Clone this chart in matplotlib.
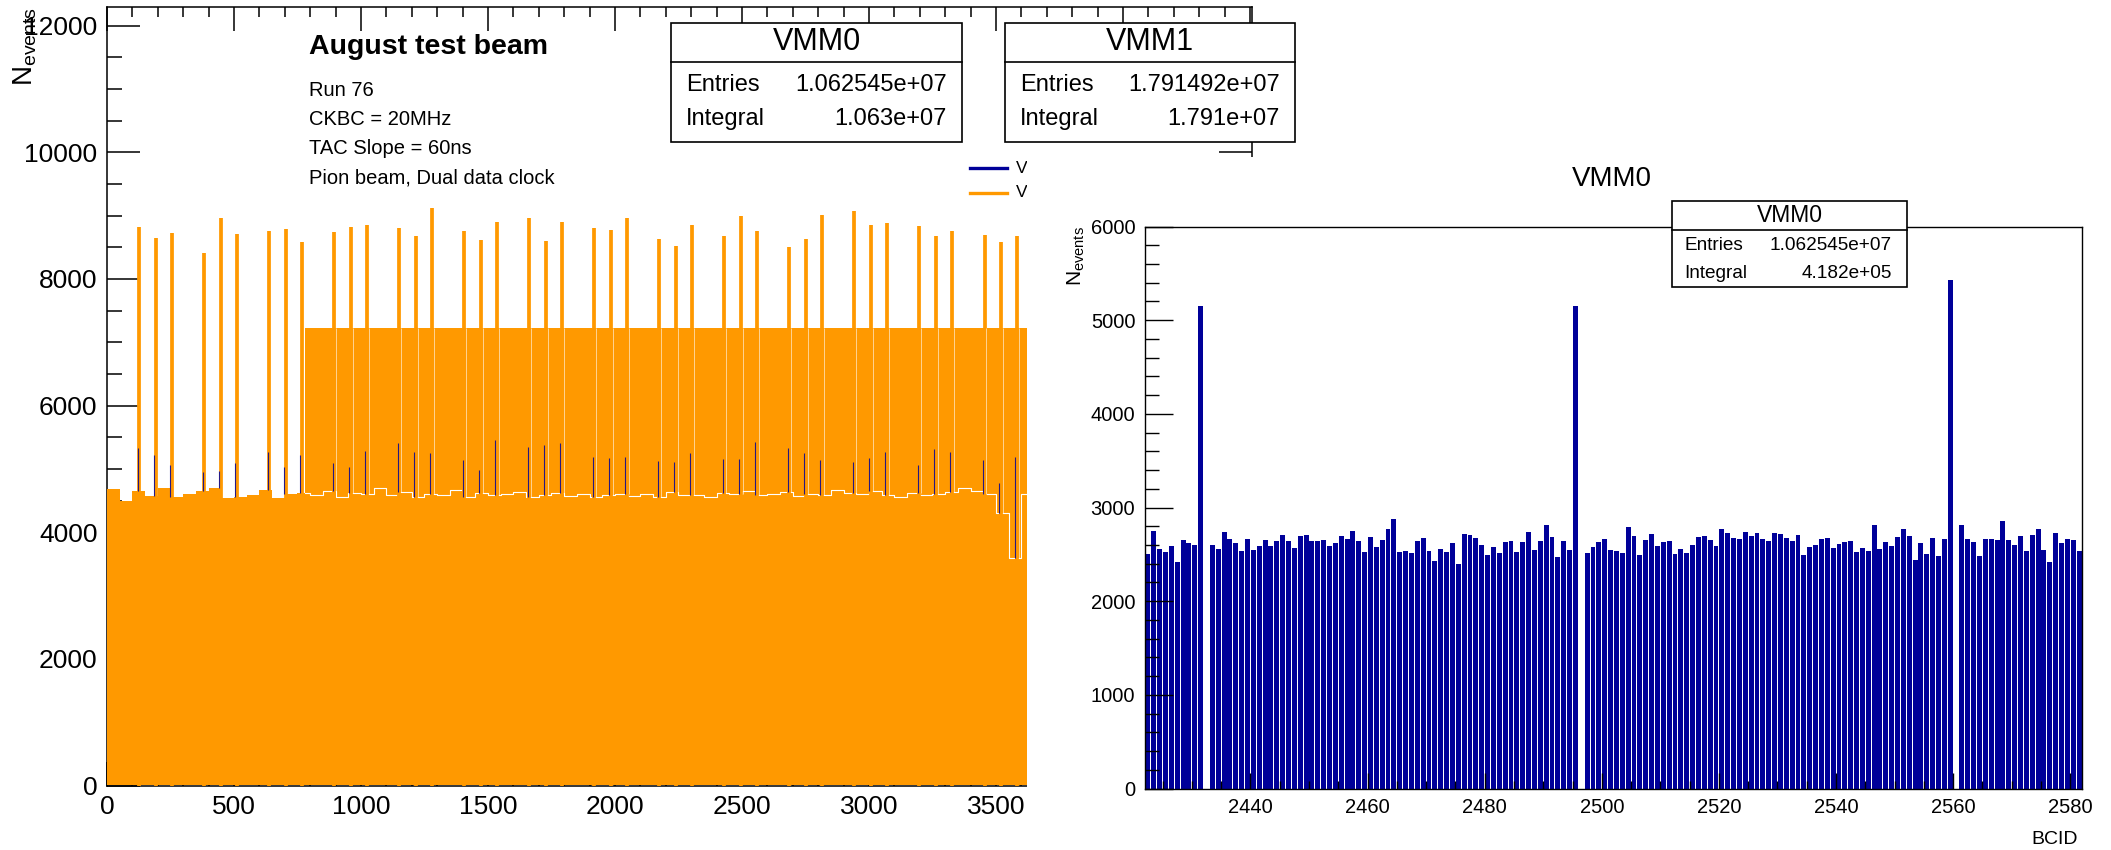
import numpy as np
import matplotlib
matplotlib.use("Agg")
import matplotlib.pyplot as plt
import matplotlib.transforms as mtransforms
from matplotlib.patches import Rectangle
from matplotlib.lines import Line2D
from matplotlib.ticker import MultipleLocator, FuncFormatter

plt.rcParams['font.family'] = ['Liberation Sans', 'DejaVu Sans']
plt.rcParams['mathtext.fontset'] = 'custom'
plt.rcParams['mathtext.rm'] = 'Liberation Sans'
plt.rcParams['mathtext.it'] = 'Liberation Sans:italic'
plt.rcParams['mathtext.bf'] = 'Liberation Sans:bold'

# ---------------------------------------------------------------- data
# BCIDs where both VMMs show a spike (left, full-range panel)
spike_bcid = [127, 191, 255, 383, 447, 511, 639, 703, 767, 895, 959, 1023,
              1151, 1215, 1279, 1407, 1471, 1535, 1663, 1727, 1791, 1919,
              1983, 2047, 2175, 2239, 2303, 2431, 2495, 2559, 2687, 2751,
              2815, 2943, 3007, 3071, 3199, 3263, 3327, 3455, 3519, 3583]
vmm1_spike_counts = [8828, 8649, 8728, 8417, 8965, 8707, 8760, 8786, 8581, 8744,
                     8823, 8850, 8802, 8676, 9118, 8755, 8613, 8907, 8960, 8602,
                     8902, 8807, 8776, 8960, 8638, 8523, 8855, 8676, 8997, 8760,
                     8507, 8628, 9013, 9076, 8850, 8886, 8839, 8681, 8755, 8697,
                     8581, 8686]
vmm0_spike_counts = [5330, 5220, 5060, 4950, 4960, 5095, 5273, 5036, 5221, 5095,
                     5036, 5290, 5408, 5273, 5250, 5142, 4980, 5458, 5352, 5380,
                     5406, 5184, 5168, 5195, 5126, 5116, 5258, 5149, 5150, 5424,
                     5327, 5253, 5142, 5116, 5168, 5274, 5063, 5311, 5274, 5142,
                     4774, 5195]
# VMM1 baseline level, one value per 50-BCID band starting at BCID 0
vmm1_band_width = 50
vmm1_band_top = [4680, 4500, 4650, 4570, 4700, 4560, 4600, 4650, 4700, 4540,
                 4560, 4590, 4670, 4540, 4600, 4620, 4580, 4650, 4560, 4620,
                 4600, 4700, 4590, 4640, 4560, 4610, 4580, 4660, 4550, 4620,
                 4580, 4600, 4640, 4560, 4590, 4620, 4570, 4600, 4560, 4580,
                 4610, 4570, 4600, 4550, 4640, 4590, 4580, 4560, 4620, 4600,
                 4650, 4580, 4610, 4640, 4570, 4600, 4590, 4660, 4620, 4600,
                 4650, 4580, 4560, 4620, 4590, 4610, 4640, 4700, 4650, 4600,
                 4300, 3600, 4600]
# flat VMM1 fill region
vmm1_flat_start = 779
vmm1_flat_stop = 3640
vmm1_flat_level = 7223

# zoomed right panel: VMM0 counts per BCID
zoom_bcid = list(range(2422, 2582))
zoom_vmm0_counts = [
    2503, 2750, 2560, 2521, 2593, 2421, 2653, 2625, 2600, 5149,
    0, 2603, 2553, 2739, 2661, 2618, 2539, 2664, 2550, 2585,
    2653, 2589, 2643, 2707, 2643, 2571, 2696, 2711, 2639, 2643,
    2653, 2589, 2618, 2696, 2668, 2750, 2639, 2525, 2686, 2578,
    2653, 2771, 2875, 2525, 2539, 2510, 2646, 2678, 2532, 2432,
    2560, 2525, 2625, 2400, 2721, 2707, 2671, 2596, 2489, 2582,
    2514, 2632, 2639, 2525, 2636, 2739, 2543, 2646, 2811, 2686,
    2475, 2639, 2543, 5150, 0, 2518, 2582, 2636, 2664, 2543,
    2535, 2510, 2796, 2696, 2489, 2657, 2718, 2585, 2632, 2643,
    2507, 2553, 2518, 2596, 2682, 2700, 2653, 2585, 2771, 2728,
    2675, 2668, 2743, 2700, 2732, 2664, 2643, 2725, 2721, 2678,
    2646, 2707, 2496, 2575, 2603, 2668, 2675, 2564, 2614, 2632,
    2643, 2525, 2564, 2539, 2818, 2553, 2636, 2589, 2686, 2771,
    2696, 2442, 2625, 2503, 2678, 2485, 2668, 5424, 0, 2814,
    2664, 2632, 2485, 2668, 2664, 2657, 2857, 2650, 2600, 2696,
    2535, 2707, 2771, 2546, 2421, 2728, 2625, 2668, 2653, 2539]

stat_names = ["VMM0", "VMM1"]
stat_entries = ["1.062545e+07", "1.791492e+07"]
stat_integrals = ["1.063e+07", "1.791e+07"]
zoom_integral = "4.182e+05"
info_lines = ["Run 76", "CKBC = 20MHz", "TAC Slope = 60ns", "Pion beam, Dual data clock"]

# ---------------------------------------------------------------- figure
W, H = 2111, 850
fig = plt.figure(figsize=(W / 100, H / 100), dpi=100)
fig.patch.set_facecolor('white')


def fx(px):
    return px / W


def fy(py):
    return 1 - py / H


ORANGE = '#ff9900'
BLUE = '#000099'

# ---------------- left panel
ax = fig.add_axes([fx(107), fy(785.5), fx(1251.7) - fx(107), fy(7.3) - fy(785.5)])
ax.set_zorder(0)
ax.set_axisbelow(True)

band = np.array(vmm1_band_top, dtype=float)
edges = np.arange(len(band) + 1) * vmm1_band_width
ax.fill_between(edges, 0, np.r_[band, band[-1]], step='post', color=ORANGE, lw=0, zorder=1)
ax.fill_between([vmm1_flat_start, vmm1_flat_stop], 0, vmm1_flat_level,
                color=ORANGE, lw=0, zorder=1)

# white outline of the baseline inside the flat region
xs = np.r_[vmm1_flat_start, edges[(edges > vmm1_flat_start) & (edges < vmm1_flat_stop)], vmm1_flat_stop]
idx = np.minimum(xs // vmm1_band_width, len(band) - 1).astype(int)
ax.step(xs, band[idx], where='post', color='white', lw=0.8, zorder=1.1)

sb = np.array(spike_bcid)
band_at_spike = band[np.minimum(sb // vmm1_band_width, len(band) - 1)]
ax.vlines(sb, 0, vmm1_spike_counts, color=ORANGE, lw=2.7, zorder=1.2)

left_off = ax.transData + mtransforms.ScaledTranslation(-1.2 / 72, 0, fig.dpi_scale_trans)
right_off = ax.transData + mtransforms.ScaledTranslation(1.4 / 72, 0, fig.dpi_scale_trans)
ax.vlines(sb, band_at_spike, vmm0_spike_counts, color=BLUE, lw=0.8, alpha=0.85,
          zorder=1.4, transform=left_off)
inflat = sb > vmm1_flat_start
ax.vlines(sb[inflat], band_at_spike[inflat], vmm1_flat_level, color='white', lw=0.5,
          alpha=0.8, zorder=1.3, transform=right_off)

ax.set_xlim(0, 4507)
ax.set_ylim(0, 12290)
ax.xaxis.set_major_locator(MultipleLocator(500))
ax.xaxis.set_minor_locator(MultipleLocator(100))
# labels beyond 3500 lie under the zoom pad
ax.xaxis.set_major_formatter(FuncFormatter(lambda v, p: f"{v:.0f}" if v <= 3500 else ""))
ax.yaxis.set_major_locator(MultipleLocator(2000))
ax.yaxis.set_minor_locator(MultipleLocator(500))
ax.tick_params(axis='x', which='major', direction='in', length=17.3, width=1.1,
               top=True, bottom=True, labelsize=19, pad=6.5)
ax.tick_params(axis='x', which='minor', direction='in', length=7.2, width=1.1,
               top=True, bottom=True)
ax.tick_params(axis='y', which='major', direction='in', length=23.8, width=1.1,
               left=True, right=True, labelsize=19, pad=6.8)
ax.tick_params(axis='y', which='minor', direction='in', length=10.8, width=1.1,
               left=True, right=True)
for s in ax.spines.values():
    s.set_linewidth(1.1)
ax.spines['left'].set_zorder(0.6)
ax.spines['bottom'].set_zorder(0.6)

# text block
ax.text(fx(309), fy(46.7), "August test beam", transform=fig.transFigure,
        fontsize=20.5, fontweight='bold', va='center', ha='left')
for line, yy in zip(info_lines, [90.3, 119.5, 149, 177.5]):
    ax.text(fx(309), fy(yy), line, transform=fig.transFigure, fontsize=14.5,
            va='center', ha='left')

# legend (partly hidden by the zoom pad)
for name, col, yy in zip(stat_names, [BLUE, ORANGE], [168.3, 192.7]):
    ax.add_artist(Line2D([fx(970), fx(1007)], [fy(yy), fy(yy)], transform=fig.transFigure,
                         color=col, lw=2.4, clip_on=False))
    ax.text(fx(1016), fy(yy), name, transform=fig.transFigure, fontsize=12.5,
            va='center', ha='left', clip_on=False)


def stat_box(axis, x0, x1, y0, y1, ysep, title, entries, integral,
             tsize, esize, lx, rx, ey, iy):
    axis.add_artist(Rectangle((fx(x0), fy(y1)), fx(x1) - fx(x0), fy(y0) - fy(y1),
                              transform=fig.transFigure, facecolor='white',
                              edgecolor='black', lw=1.2, clip_on=False, zorder=6))
    axis.add_artist(Line2D([fx(x0), fx(x1)], [fy(ysep), fy(ysep)], transform=fig.transFigure,
                           color='black', lw=1.2, clip_on=False, zorder=7))
    axis.text(fx((x0 + x1) / 2), fy((y0 + ysep) / 2), title, transform=fig.transFigure,
              fontsize=tsize, ha='center', va='center', zorder=8, clip_on=False)
    axis.text(fx(lx), fy(ey), "Entries", transform=fig.transFigure, fontsize=esize,
              ha='left', va='center', zorder=8, clip_on=False)
    axis.text(fx(rx), fy(ey), entries, transform=fig.transFigure, fontsize=esize,
              ha='right', va='center', zorder=8, clip_on=False)
    axis.text(fx(lx), fy(iy), "Integral", transform=fig.transFigure, fontsize=esize,
              ha='left', va='center', zorder=8, clip_on=False)
    axis.text(fx(rx), fy(iy), integral, transform=fig.transFigure, fontsize=esize,
              ha='right', va='center', zorder=8, clip_on=False)


stat_box(ax, 671, 962, 23, 142, 62, stat_names[0], stat_entries[0], stat_integrals[0],
         22, 17, 686, 947, 85, 119)
stat_box(ax, 1005, 1295, 23, 142, 62, stat_names[1], stat_entries[1], stat_integrals[1],
         22, 17, 1020, 1280, 85, 119)

fig.text(fx(25), fy(6.7), r"N$_{\mathregular{events}}$", rotation=90, fontsize=20,
         ha='center', va='top')

# ---------------- white pad covering the right part
cov = fig.add_axes([fx(1027), 0, 1 - fx(1027), fy(157)])
cov.set_zorder(1)
cov.set_facecolor('white')
cov.set_xticks([])
cov.set_yticks([])
for s in cov.spines.values():
    s.set_visible(False)

# ---------------- right (zoom) panel
ax2 = fig.add_axes([fx(1145), fy(788.5), fx(2082) - fx(1145), fy(226.5) - fy(788.5)])
ax2.set_zorder(2)
ax2.set_facecolor('white')
ax2.bar(np.array(zoom_bcid) + 0.5, zoom_vmm0_counts, width=0.84, color=BLUE, lw=0)
ax2.set_xlim(2422, 2582)
ax2.set_ylim(0, 6000)
ax2.ticklabel_format(useOffset=False)
ax2.xaxis.set_major_locator(MultipleLocator(20))
ax2.xaxis.set_minor_locator(MultipleLocator(5))
ax2.yaxis.set_major_locator(MultipleLocator(1000))
ax2.yaxis.set_minor_locator(MultipleLocator(200))
ax2.tick_params(axis='x', which='major', direction='in', length=11.5, width=1.0,
                top=False, labelsize=14.5, pad=7.0)
ax2.tick_params(axis='x', which='minor', direction='in', length=5.8, width=1.0, top=False)
ax2.tick_params(axis='y', which='major', direction='in', length=20, width=1.0,
                right=False, labelsize=14.5, pad=7.0)
ax2.tick_params(axis='y', which='minor', direction='in', length=10, width=1.0, right=False)
for s in ax2.spines.values():
    s.set_linewidth(1.0)

ax2.text(fx(2078), fy(840), "BCID", transform=fig.transFigure, fontsize=14,
         ha='right', va='center', clip_on=False)
ax2.text(fx(1612), fy(179), stat_names[0], transform=fig.transFigure, fontsize=20,
         ha='center', va='center', clip_on=False)
ax2.text(fx(1076), fy(226.5), r"N$_{\mathregular{events}}$", transform=fig.transFigure,
         rotation=90, fontsize=15, ha='center', va='top', clip_on=False)
stat_box(ax2, 1672, 1907, 201, 287, 230, stat_names[0], stat_entries[0], zoom_integral,
         16.5, 13.7, 1684, 1892, 245, 273)

fig.savefig("out.png", dpi=100)
